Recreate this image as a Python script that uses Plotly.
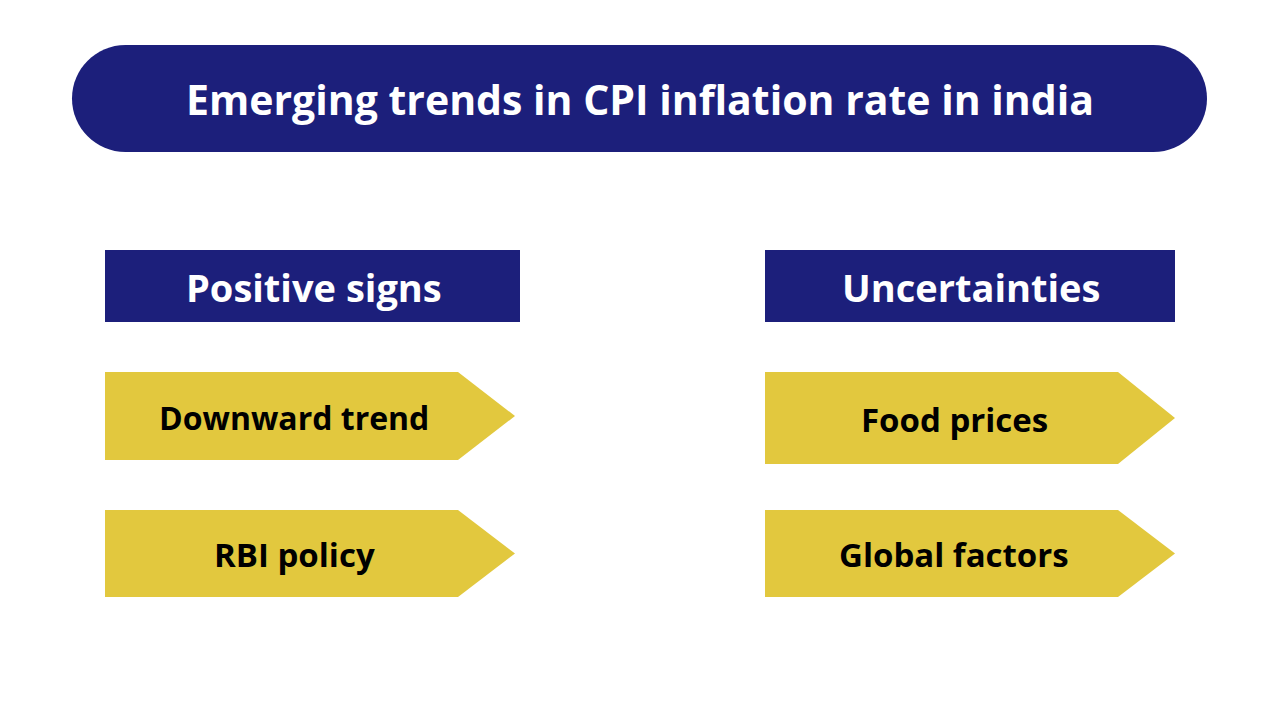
import plotly.graph_objects as go

# ---- content ----
title = "Emerging trends in CPI inflation rate in india"
headers = ["Positive signs", "Uncertainties"]
left_items = ["Downward trend", "RBI policy"]
right_items = ["Food prices", "Global factors"]

NAVY = "#1c1f7b"
YELLOW = "#e2c83e"
FONT = "Open Sans"

W, H = 1280, 720

fig = go.Figure()
shapes = []
annotations = []

# title pill (half circles via cubic beziers)
x0, x1, y0, y1 = 72, 1207, 45, 152
r = (y1 - y0) / 2
cy = (y0 + y1) / 2
k = 0.5523 * r
L, R = x0 + r, x1 - r
path = (f"M {L},{y0} L {R},{y0} "
        f"C {R + k},{y0} {x1},{cy - k} {x1},{cy} "
        f"C {x1},{cy + k} {R + k},{y1} {R},{y1} "
        f"L {L},{y1} "
        f"C {L - k},{y1} {x0},{cy + k} {x0},{cy} "
        f"C {x0},{cy - k} {L - k},{y0} {L},{y0} Z")
shapes.append(dict(type="path", path=path, fillcolor=NAVY, line=dict(width=0), layer="below"))
annotations.append(dict(x=640, y=99, text=f"<b>{title}</b>", showarrow=False,
                        font=dict(family=FONT, size=41, color="white"),
                        xanchor="center", yanchor="middle"))

# column headers
header_boxes = [(105, 520), (765, 1175)]
for (hx0, hx1), label in zip(header_boxes, headers):
    shapes.append(dict(type="rect", x0=hx0, x1=hx1, y0=250, y1=322,
                       fillcolor=NAVY, line=dict(width=0), layer="below"))
    annotations.append(dict(x=(hx0 + hx1) / 2 + 1, y=287, text=f"<b>{label}</b>", showarrow=False,
                            font=dict(family=FONT, size=38, color="white"),
                            xanchor="center", yanchor="middle"))

# arrows
def arrow(ax0, body_end, tip, ay0, ay1):
    mid = (ay0 + ay1) / 2
    return (f"M {ax0},{ay0} L {body_end},{ay0} L {tip},{mid} "
            f"L {body_end},{ay1} L {ax0},{ay1} Z")

cols = [(105, 458, 515, left_items, [(372, 460), (510, 597)], 294),
        (765, 1118, 1175, right_items, [(372, 464), (510, 597)], 954)]
sizes = {"Downward trend": 32}
for ax0, body_end, tip, items, rows, tx in cols:
    for label, (ay0, ay1) in zip(items, rows):
        shapes.append(dict(type="path", path=arrow(ax0, body_end, tip, ay0, ay1),
                           fillcolor=YELLOW, line=dict(width=0), layer="below"))
        annotations.append(dict(x=tx, y=(ay0 + ay1) / 2 + 1, text=f"<b>{label}</b>", showarrow=False,
                                font=dict(family=FONT, size=sizes.get(label, 33), color="black"),
                                xanchor="center", yanchor="middle"))

fig.update_layout(
    width=W, height=H,
    margin=dict(l=0, r=0, t=0, b=0),
    paper_bgcolor="white", plot_bgcolor="white",
    xaxis=dict(range=[0, W], visible=False, fixedrange=True),
    yaxis=dict(range=[H, 0], visible=False, fixedrange=True),
    shapes=shapes, annotations=annotations,
    showlegend=False,
)
fig.write_html("out.html", config={"displayModeBar": False},
               post_script="document.body.style.margin='0';document.body.style.overflow='hidden';")
